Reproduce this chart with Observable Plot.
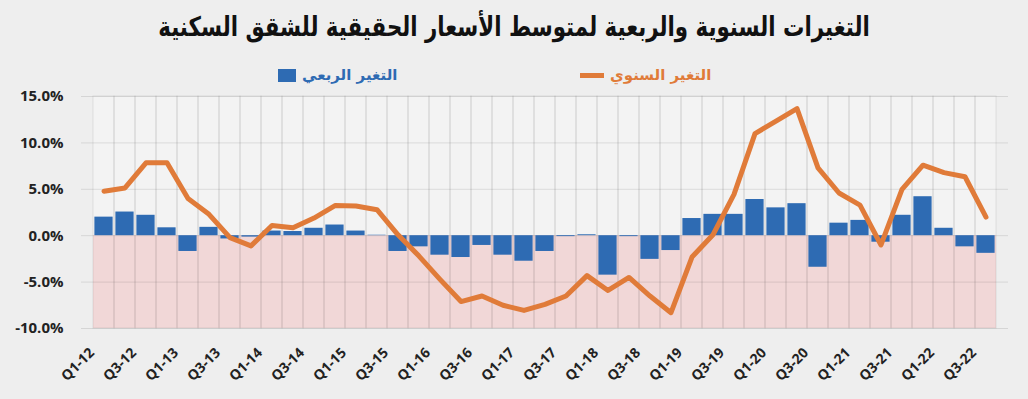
<!DOCTYPE html>
<html>
<head>
<meta charset="utf-8">
<script src="https://cdn.jsdelivr.net/npm/d3@7"></script>
<script src="https://cdn.jsdelivr.net/npm/@observablehq/plot@0.6"></script>
<style>
  html, body { margin: 0; padding: 0; background: #eeeeee; width: 1028px; height: 399px; overflow: hidden; }
  #title { height: 46px; position: relative; }
  #title span { position: absolute; left: 50%; top: 11px; transform: translateX(-50%) scaleX(0.79); white-space: nowrap; font-family: "DejaVu Sans", sans-serif; font-weight: bold; font-size: 27px; line-height: 32px; color: #111; direction: rtl; }
  #legend { position: relative; height: 32px; font-family: "DejaVu Sans", sans-serif; font-weight: bold; font-size: 15px; }
  .item { position: absolute; top: 20px; height: 18px; display: flex; align-items: center; direction: ltr; }
  .swatch { display: inline-block; margin-right: 6px; }
  #chart svg { display: block; overflow: visible; }
</style>
</head>
<body>
<div id="title"><span>التغيرات السنوية والربعية لمتوسط الأسعار الحقيقية للشقق السكنية</span></div>
<div id="legend"></div>
<div id="chart"></div>
<script>
const quarters = ["Q1-12","Q2-12","Q3-12","Q4-12","Q1-13","Q2-13","Q3-13","Q4-13","Q1-14","Q2-14","Q3-14","Q4-14","Q1-15","Q2-15","Q3-15","Q4-15","Q1-16","Q2-16","Q3-16","Q4-16","Q1-17","Q2-17","Q3-17","Q4-17","Q1-18","Q2-18","Q3-18","Q4-18","Q1-19","Q2-19","Q3-19","Q4-19","Q1-20","Q2-20","Q3-20","Q4-20","Q1-21","Q2-21","Q3-21","Q4-21","Q1-22","Q2-22","Q3-22"];
const quarterlyChange = [2.0, 2.55, 2.2, 0.85, -1.7, 0.9, -0.35, -0.15, 0.5, 0.45, 0.8, 1.15, 0.5, 0.05, -1.7, -1.2, -2.1, -2.35, -1.05, -2.1, -2.75, -1.7, -0.1, 0.1, -4.25, -0.1, -2.55, -1.6, 1.85, 2.3, 2.3, 3.9, 3.0, 3.45, -3.4, 1.35, 1.65, -0.7, 2.2, 4.2, 0.8, -1.2, -1.9];
const annualChange = [4.8, 5.15, 7.85, 7.85, 4.0, 2.3, -0.2, -1.1, 1.1, 0.85, 1.9, 3.25, 3.2, 2.8, 0.1, -2.2, -4.7, -7.1, -6.5, -7.5, -8.05, -7.4, -6.5, -4.3, -5.9, -4.5, -6.5, -8.3, -2.3, 0.1, 4.45, 11.0, 12.35, 13.7, 7.3, 4.6, 3.3, -1.0, 5.0, 7.6, 6.8, 6.35, 2.0];
const xTickLabels = ["Q1-12","Q3-12","Q1-13","Q3-13","Q1-14","Q3-14","Q1-15","Q3-15","Q1-16","Q3-16","Q1-17","Q3-17","Q1-18","Q3-18","Q1-19","Q3-19","Q1-20","Q3-20","Q1-21","Q3-21","Q1-22","Q3-22"];
const yTicks = [-10, -5, 0, 5, 10, 15];
const seriesNames = ["التغير الربعي", "التغير السنوي"];
const colors = { quarterly: "#2e6bb3", annual: "#e07b39" };

const data = quarters.map((q, i) => ({ q, qv: quarterlyChange[i], av: annualChange[i] }));

// legend
const legend = document.getElementById("legend");
legend.innerHTML = `
  <div class="item" style="left:278px;color:${colors.quarterly}"><span class="swatch" style="width:18px;height:13px;background:${colors.quarterly}"></span><span dir="rtl">${seriesNames[0]}</span></div>
  <div class="item" style="left:580px;color:${colors.annual}"><span class="swatch" style="width:24px;height:5px;background:${colors.annual}"></span><span dir="rtl">${seriesNames[1]}</span></div>`;

const chart = Plot.plot({
  width: 1028,
  height: 321,
  marginLeft: 81,
  marginRight: 20,
  marginTop: 18,
  marginBottom: 71,
  style: { background: "transparent", fontFamily: "'Open Sans', sans-serif", color: "#222" },
  x: { type: "band", domain: quarters, padding: 0 },
  y: { domain: [-10, 15] },
  marks: [
    Plot.barY(quarters, { x: d => d, y1: -10, y2: 15, fill: "#f3f3f3" }),
    Plot.barY(quarters, { x: d => d, y1: -10, y2: 0, fill: "#f1d7d7" }),
    Plot.ruleY(yTicks, { stroke: "#000", strokeOpacity: 0.1 }),
    Plot.barY(quarters, { x: d => d, y1: -10, y2: 15, fill: "none", stroke: "#000", strokeOpacity: 0.08 }),
    Plot.barY(data, { x: "q", y: "qv", fill: colors.quarterly, insetLeft: 1.4, insetRight: 1.4 }),
    Plot.lineY(data, { x: "q", y: "av", stroke: colors.annual, strokeWidth: 5, strokeLinejoin: "round", strokeLinecap: "round" }),
    Plot.axisY({ ticks: yTicks, tickSize: 0, tickPadding: 18, tickFormat: d => d.toFixed(1) + "%", fontSize: 15, fontWeight: "bold", label: null }),
    Plot.axisX({ ticks: xTickLabels, tickSize: 0, tickPadding: 14, tickRotate: -45, fontSize: 14, fontWeight: "bold", dx: -12, dy: 8, label: null })
  ]
});
document.getElementById("chart").appendChild(chart);
</script>
</body>
</html>
